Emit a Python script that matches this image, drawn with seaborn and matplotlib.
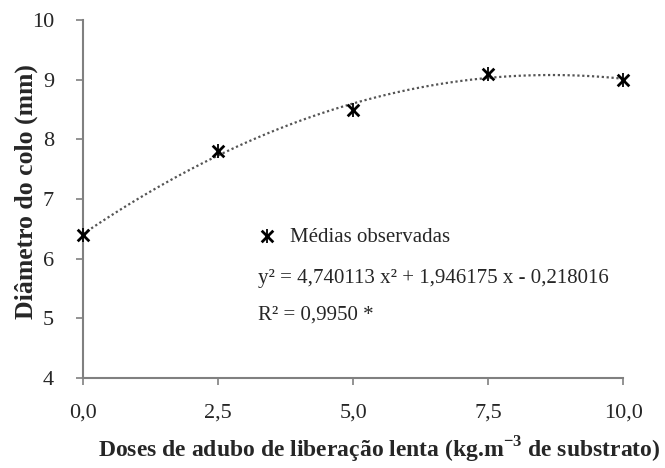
import numpy as np
import pandas as pd
import matplotlib
matplotlib.use("Agg")
import matplotlib.pyplot as plt
from matplotlib.legend_handler import HandlerTuple
import seaborn as sns

# Dados
doses = [0.0, 2.5, 5.0, 7.5, 10.0]
diametro = [6.4, 7.8, 8.5, 9.1, 9.0]
x_ticks = [0.0, 2.5, 5.0, 7.5, 10.0]
x_tick_labels = ["0,0", "2,5", "5,0", "7,5", "10,0"]
y_ticks = [4, 5, 6, 7, 8, 9, 10]
equacao = "y\u00b2 = 4,740113 x\u00b2 + 1,946175 x - 0,218016"
r2 = "R\u00b2 = 0,9950 *"

df = pd.DataFrame({"dose": doses, "diametro": diametro})

sns.set_style("white")
plt.rcParams["font.family"] = ["Liberation Serif", "DejaVu Serif"]
plt.rcParams["mathtext.fontset"] = "custom"
plt.rcParams["mathtext.rm"] = "Liberation Serif:bold"
plt.rcParams["mathtext.bf"] = "Liberation Serif:bold"

fig = plt.figure(figsize=(6.65, 4.68), dpi=100)
ax = fig.add_axes([0.125, 0.192, 0.812, 0.765])

# Curva ajustada (polinômio de 2º grau)
sns.regplot(data=df, x="dose", y="diametro", order=2, ci=None, scatter=False,
            line_kws={"color": "#555555", "linestyle": (0, (1, 1.2)), "linewidth": 1.6},
            ax=ax)

# Médias observadas (marcador x + barra vertical)
h1 = ax.scatter(df["dose"], df["diametro"], marker="x", s=70, color="black",
                linewidths=2, clip_on=False, zorder=5)
h2 = ax.scatter(df["dose"], df["diametro"], marker="|", s=90, color="black",
                linewidths=1.3, clip_on=False, zorder=5)

leg = ax.legend([(h1, h2)], ["Médias observadas"],
                handler_map={tuple: HandlerTuple(ndivide=1, pad=0)},
                loc="center left", bbox_to_anchor=(0.322, 0.395), frameon=False,
                fontsize=15, handlelength=1.0, handletextpad=0.6, borderpad=0,
                borderaxespad=0)

ax.text(0.324, 0.279, equacao, transform=ax.transAxes, fontsize=15,
        va="center", ha="left")
ax.text(0.324, 0.176, r2, transform=ax.transAxes, fontsize=15,
        va="center", ha="left")

ax.set_xlim(0, 10)
ax.set_ylim(4, 10)
ax.set_xticks(x_ticks)
ax.set_xticklabels(x_tick_labels)
ax.set_yticks(y_ticks)
ax.tick_params(axis="both", direction="out", length=5, width=1.2,
               color="#808080", labelsize=16, pad=13, bottom=True, left=True)
ax.tick_params(axis="y", pad=16)

sns.despine(ax=ax)
for side in ["left", "bottom"]:
    ax.spines[side].set_color("#808080")
    ax.spines[side].set_linewidth(1.5)

ax.set_xlabel("Doses de adubo de liberação lenta (kg.m$^{-3}$ de substrato)",
              fontsize=17, fontweight="bold")
ax.set_ylabel("Diâmetro do colo (mm)", fontsize=18.5, fontweight="bold")
ax.xaxis.set_label_coords(0.548, -0.2, transform=ax.transAxes)
ax.yaxis.set_label_coords(-0.105, 0.52, transform=ax.transAxes)
ax.xaxis.label.set_va("center")
ax.yaxis.label.set_va("center")

fig.savefig("out.png", dpi=100)
